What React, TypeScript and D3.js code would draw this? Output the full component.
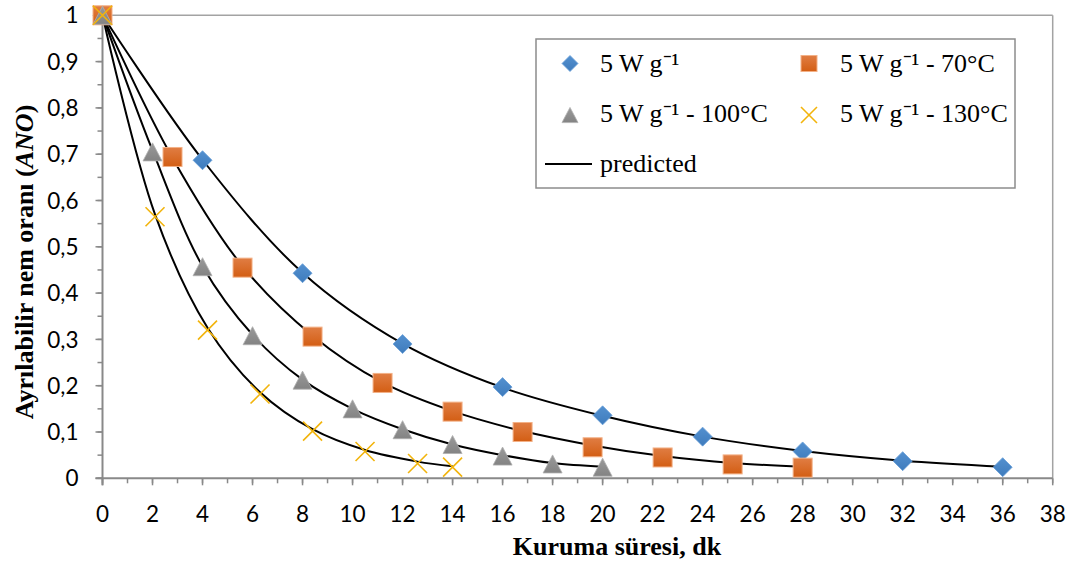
import React from "react";
import * as d3 from "d3";

// Measured drying data: time (min) vs moisture ratio
const timeA = [0, 4, 8, 12, 16, 20, 24, 28, 32, 36];
const anoA = [1, 0.687, 0.443, 0.29, 0.197, 0.136, 0.09, 0.058, 0.037, 0.024];

const timeB = [0, 2.8, 5.6, 8.4, 11.2, 14, 16.8, 19.6, 22.4, 25.2, 28];
const anoB = [1, 0.694, 0.455, 0.306, 0.206, 0.144, 0.1, 0.067, 0.045, 0.03, 0.023];

const timeC = [0, 2, 4, 6, 8, 10, 12, 14, 16, 18, 20];
const anoC = [1, 0.705, 0.457, 0.308, 0.212, 0.15, 0.105, 0.073, 0.048, 0.031, 0.024];

const timeD = [0, 2.1, 4.2, 6.3, 8.4, 10.5, 12.6, 14];
const anoD = [1, 0.565, 0.32, 0.182, 0.102, 0.058, 0.032, 0.024];

// Model predictions at the same times
const predA = [1, 0.688, 0.444, 0.291, 0.196, 0.135, 0.09, 0.059, 0.038, 0.025];
const predB = [1, 0.692, 0.458, 0.308, 0.207, 0.145, 0.102, 0.071, 0.048, 0.033, 0.025];
const predC = [1, 0.708, 0.458, 0.31, 0.213, 0.15, 0.106, 0.073, 0.05, 0.033, 0.025];
const predD = [1, 0.57, 0.325, 0.186, 0.106, 0.061, 0.036, 0.026];

const xTicks = d3.range(0, 39, 2);
const xMinor = d3.range(0, 39, 1);
const yTicks = d3.range(0, 11).map((i) => i / 10);
const yMinor = d3.range(0, 21).map((i) => i / 20);
const yTickLabels = ["0", "0,1", "0,2", "0,3", "0,4", "0,5", "0,6", "0,7", "0,8", "0,9", "1"];

const legendLabels = [
  "5 W g\u207B\u00B9",
  "5 W g\u207B\u00B9 - 70°C",
  "5 W g\u207B\u00B9 - 100°C",
  "5 W g\u207B\u00B9 - 130°C",
  "predicted",
];

const W = 1078;
const H = 565;
const left = 102.5;
const right = 1052.7;
const top = 15.3;
const bottom = 478.3;

const x = d3.scaleLinear().domain([0, 38]).range([left, right]);
const y = d3.scaleLinear().domain([0, 1]).range([bottom, top]);

const line = d3
  .line<[number, number]>()
  .x((d) => x(d[0]))
  .y((d) => y(d[1]))
  .curve(d3.curveCatmullRom.alpha(0.5));

const zip = (a: number[], b: number[]) => a.map((v, i) => [v, b[i]] as [number, number]);

const tickFont = "Lato, 'Open Sans', sans-serif";
const serif = "'Liberation Serif', 'Times New Roman', serif";
const axisColor = "#898989";

function Diamond({ cx, cy, r = 9.5 }: { cx: number; cy: number; r?: number }) {
  return (
    <path
      d={`M${cx},${cy - r}L${cx + r},${cy}L${cx},${cy + r}L${cx - r},${cy}Z`}
      fill="url(#gBlue)"
      stroke="#6a9fd8"
      strokeWidth={0.8}
    />
  );
}

function Square({ cx, cy, s = 19 }: { cx: number; cy: number; s?: number }) {
  return (
    <rect
      x={cx - s / 2}
      y={cy - s / 2}
      width={s}
      height={s}
      fill="url(#gOrange)"
      stroke="#f3b187"
      strokeWidth={1}
    />
  );
}

function Triangle({ cx, cy, s = 19 }: { cx: number; cy: number; s?: number }) {
  const h = s * 0.95;
  return (
    <path
      d={`M${cx},${cy - h / 2}L${cx + s / 2},${cy + h / 2}L${cx - s / 2},${cy + h / 2}Z`}
      fill="url(#gGray)"
      stroke="#b0b0b0"
      strokeWidth={0.8}
    />
  );
}

function Cross({ cx, cy, s = 19 }: { cx: number; cy: number; s?: number }) {
  const h = s / 2;
  return (
    <path
      d={`M${cx - h},${cy - h}L${cx + h},${cy + h}M${cx - h},${cy + h}L${cx + h},${cy - h}`}
      stroke="#f2b40c"
      strokeWidth={1.6}
      fill="none"
    />
  );
}

export default function App() {
  const preds = [zip(timeA, predA), zip(timeB, predB), zip(timeC, predC), zip(timeD, predD)];

  return (
    <svg
      width={W}
      height={H}
      style={{ position: "absolute", left: 0, top: 0, background: "#fff" }}
    >
      <defs>
        <linearGradient id="gBlue" x1="0" y1="0" x2="0" y2="1">
          <stop offset="0" stopColor="#5390cf" />
          <stop offset="1" stopColor="#3f7cbd" />
        </linearGradient>
        <linearGradient id="gOrange" x1="0" y1="0" x2="0" y2="1">
          <stop offset="0" stopColor="#e07d43" />
          <stop offset="1" stopColor="#d35e14" />
        </linearGradient>
        <linearGradient id="gGray" x1="0" y1="0" x2="0" y2="1">
          <stop offset="0" stopColor="#9a9a9a" />
          <stop offset="1" stopColor="#838383" />
        </linearGradient>
      </defs>

      {/* plot frame (top and right) */}
      <line x1={left} x2={right} y1={top} y2={top} stroke="#a3a3a3" strokeWidth={1.5} />
      <line x1={right} x2={right} y1={top} y2={bottom} stroke="#a3a3a3" strokeWidth={1.5} />

      {/* y axis */}
      <line x1={left} x2={left} y1={top} y2={bottom + 7} stroke={axisColor} strokeWidth={2} />
      {yMinor.map((v) => (
        <line key={"ym" + v} x1={left - 5} x2={left} y1={y(v)} y2={y(v)} stroke={axisColor} strokeWidth={1.5} />
      ))}
      {yTicks.map((v) => (
        <line key={"yt" + v} x1={left - 7} x2={left} y1={y(v)} y2={y(v)} stroke={axisColor} strokeWidth={1.5} />
      ))}
      {yTicks.map((v, i) => (
        <text
          key={"yl" + v}
          x={78.5}
          y={y(v)}
          dy="0.36em"
          textAnchor="end"
          fontFamily={tickFont}
          fontSize={22.5}
          fill="#000"
        >
          {yTickLabels[i]}
        </text>
      ))}

      {/* x axis */}
      <line x1={left - 7} x2={right} y1={bottom} y2={bottom} stroke={axisColor} strokeWidth={2} />
      {xMinor.map((v) => (
        <line key={"xm" + v} x1={x(v)} x2={x(v)} y1={bottom} y2={bottom + 5} stroke={axisColor} strokeWidth={1.5} />
      ))}
      {xTicks.map((v) => (
        <line key={"xt" + v} x1={x(v)} x2={x(v)} y1={bottom} y2={bottom + 7} stroke={axisColor} strokeWidth={1.5} />
      ))}
      {xTicks.map((v) => (
        <text
          key={"xl" + v}
          x={x(v)}
          y={521.5}
          textAnchor="middle"
          fontFamily={tickFont}
          fontSize={22.5}
          fill="#000"
        >
          {v}
        </text>
      ))}

      {/* axis titles */}
      <text
        x={617}
        y={555}
        textAnchor="middle"
        fontFamily={serif}
        fontWeight="bold"
        fontSize={26}
      >
        Kuruma süresi, dk
      </text>
      <text
        transform="translate(33,262) rotate(-90)"
        textAnchor="middle"
        fontFamily={serif}
        fontWeight="bold"
        fontSize={26}
      >
        Ayrılabilir nem oranı (<tspan fontStyle="italic">ANO</tspan>)
      </text>

      {/* predicted curves */}
      {preds.map((p, i) => (
        <path key={"p" + i} d={line(p) || ""} fill="none" stroke="#000" strokeWidth={2} />
      ))}

      {/* measured points */}
      {timeD.map((t, i) => (
        <Cross key={"d" + i} cx={x(t)} cy={y(anoD[i])} />
      ))}
      {timeA.map((t, i) => (
        <Diamond key={"a" + i} cx={x(t)} cy={y(anoA[i])} />
      ))}
      {timeB.map((t, i) => (
        <Square key={"b" + i} cx={x(t)} cy={y(anoB[i])} />
      ))}
      {timeC.map((t, i) => (
        <Triangle key={"c" + i} cx={x(t)} cy={y(anoC[i])} />
      ))}
      {/* keep the first cross visible over the stacked origin markers */}
      <Cross cx={x(timeD[0])} cy={y(anoD[0])} />

      {/* legend */}
      <rect x={536} y={39} width={479} height={149} fill="#fff" stroke="#8c8c8c" strokeWidth={1.5} />
      <Diamond cx={570} cy={63.5} r={8} />
      <Square cx={809} cy={63.5} s={16} />
      <Triangle cx={570} cy={115} s={16} />
      <Cross cx={809} cy={115} s={16} />
      <line x1={545} x2={592} y1={164} y2={164} stroke="#000" strokeWidth={2} />
      {legendLabels.map((t, i) => {
        const col = i === 4 ? 0 : i % 2;
        const row = Math.floor(i / 2);
        return (
          <text
            key={"lg" + i}
            x={col === 0 ? 600 : 840}
            y={72 + row * 50}
            fontFamily={serif}
            fontSize={26}
            fill="#000"
          >
            {t}
          </text>
        );
      })}
    </svg>
  );
}
